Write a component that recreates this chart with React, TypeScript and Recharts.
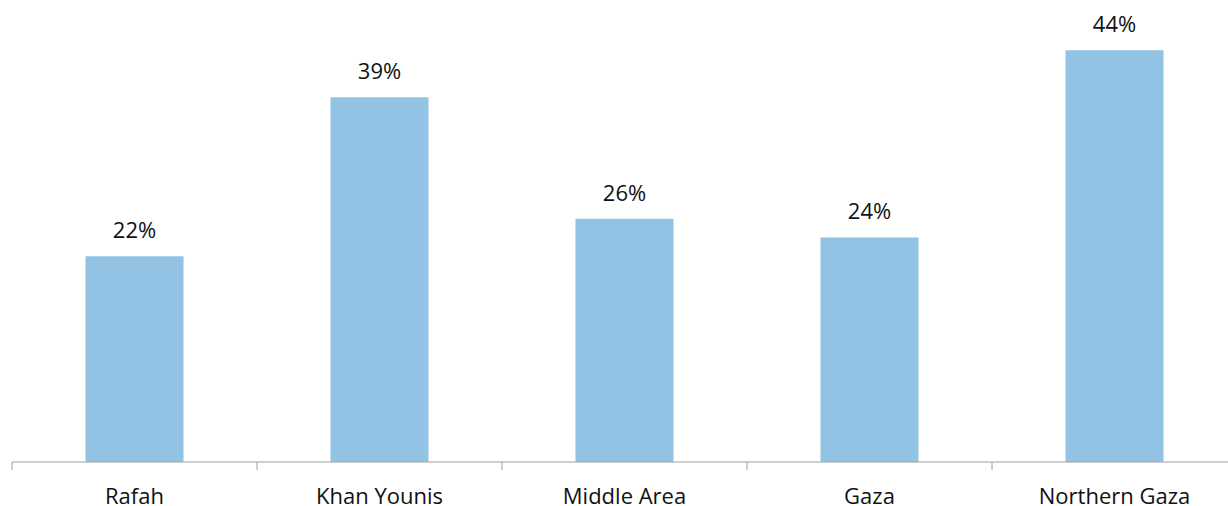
import { BarChart, Bar, XAxis, YAxis, LabelList } from "recharts";

const regions = ["Rafah", "Khan Younis", "Middle Area", "Gaza", "Northern Gaza"];
const shares = [22, 39, 26, 24, 44];

const data = regions.map((region, i) => ({ region, share: shares[i] }));

// half of one category band, used to put the tick marks between categories
const HALF_BAND = (1237 - 12) / regions.length / 2;

const CategoryTick = (props: any) => {
  const { x, y, payload } = props;
  return (
    <g>
      <line x1={x - HALF_BAND} x2={x - HALF_BAND} y1={y - 26} y2={y - 18} stroke="#a0a0a0" />
      <text x={x} y={y} dy="0.71em" textAnchor="middle" fill="#111" fontSize={22}>
        {payload.value}
      </text>
    </g>
  );
};

export default function App() {
  return (
    <div style={{ position: "absolute", left: 0, top: 0, fontFamily: "'Open Sans', sans-serif" }}>
      <BarChart
        width={1240}
        height={506}
        data={data}
        margin={{ top: 41, right: 3, bottom: 0, left: 12 }}
        barCategoryGap="30%"
      >
        <XAxis
          dataKey="region"
          height={44}
          stroke="#a0a0a0"
          tickSize={8}
          tickLine={false}
          tick={<CategoryTick />}
          tickMargin={18}
          interval={0}
        />
        <YAxis hide domain={[0, 45]} />
        <Bar dataKey="share" fill="#92c3e4" isAnimationActive={false}>
          <LabelList
            dataKey="share"
            position="top"
            offset={18}
            formatter={(v: any) => `${v}%`}
            style={{ fill: "#111", fontSize: 22 }}
          />
        </Bar>
      </BarChart>
    </div>
  );
}
